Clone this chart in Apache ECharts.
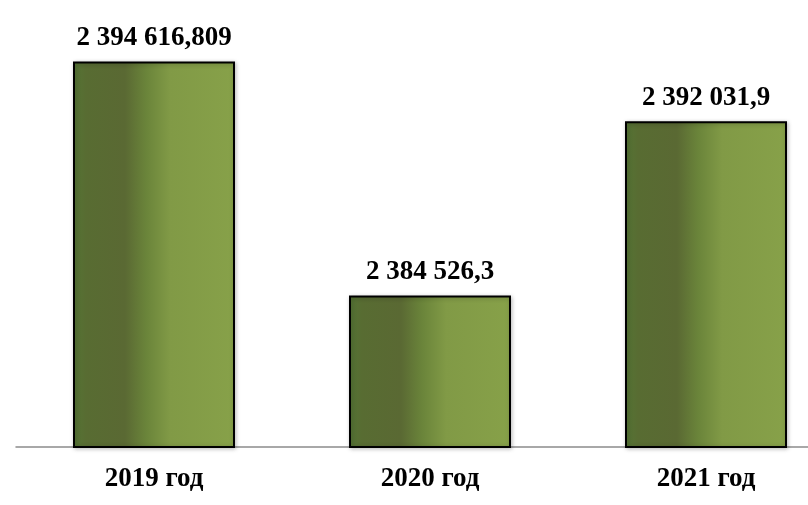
<!DOCTYPE html>
<html>
<head>
<meta charset="utf-8">
<script src="https://cdn.jsdelivr.net/npm/echarts@6/dist/echarts.min.js"></script>
<style>html,body{margin:0;padding:0;background:#fff;overflow:hidden;width:808px;height:505px}#c{width:844px;height:505px}</style>
</head>
<body>
<div id="c"></div>
<script>
var categories = ['2019 год', '2020 год', '2021 год'];
var values = [2394616.809, 2384526.3, 2392031.9];
var valueLabels = ['2 394 616,809', '2 384 526,3', '2 392 031,9'];

var chart = echarts.init(document.getElementById('c'));
var barColor = new echarts.graphic.LinearGradient(0, 0, 1, 0, [
  {offset: 0, color: '#557535'},
  {offset: 0.08, color: '#586c32'},
  {offset: 0.32, color: '#5a6933'},
  {offset: 0.45, color: '#6a843a'},
  {offset: 0.6, color: '#819a46'},
  {offset: 1, color: '#87a149'}
]);
chart.setOption({
  animation: false,
  grid: {left: 16, right: 0, top: 20, bottom: 58},
  xAxis: {
    type: 'category',
    data: categories,
    axisLine: {lineStyle: {color: '#8c8c8c', width: 1.5}},
    axisTick: {show: false},
    axisLabel: {
      color: '#000', fontFamily: 'Liberation Serif', fontWeight: 'bold', fontSize: 27, margin: 19
    }
  },
  yAxis: {
    type: 'value', min: 2378000, max: 2396400,
    show: false, splitLine: {show: false}
  },
  series: [{
    type: 'bar',
    data: values,
    barWidth: 162,
    itemStyle: {
      color: barColor, borderColor: '#000', borderWidth: 2,
      shadowColor: 'rgba(0,0,0,0.25)', shadowBlur: 4, shadowOffsetX: 1, shadowOffsetY: 1
    },
    label: {
      show: true, position: 'top', distance: 10,
      color: '#000', fontFamily: 'Liberation Serif', fontWeight: 'bold', fontSize: 27,
      formatter: function (p) { return valueLabels[p.dataIndex]; }
    }
  }]
});
</script>
</body>
</html>
